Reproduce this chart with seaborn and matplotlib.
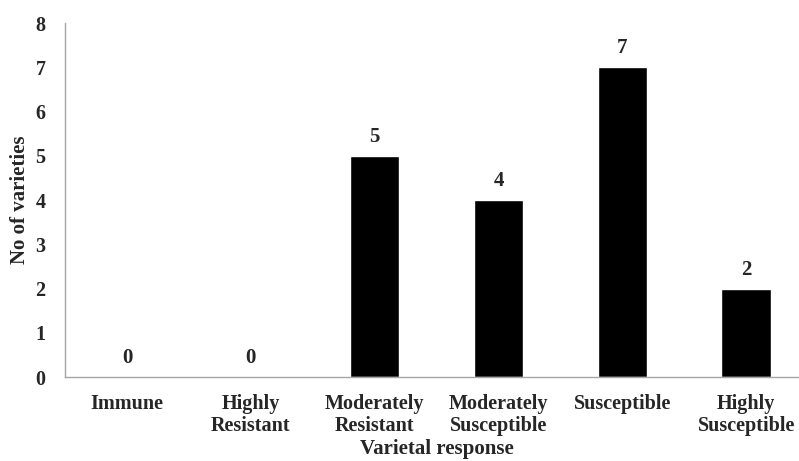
import matplotlib
matplotlib.use("Agg")
import matplotlib.pyplot as plt
import seaborn as sns
import pandas as pd

# data
categories = ["Immune", "Highly\nResistant", "Moderately\nResistant",
              "Moderately\nSusceptible", "Susceptible", "Highly\nSusceptible"]
counts = [0, 0, 5, 4, 7, 2]

df = pd.DataFrame({"response": categories, "count": counts})

sns.set_style("white")
plt.rcParams['font.family'] = ['Liberation Serif', 'DejaVu Serif']
plt.rcParams['font.weight'] = 'bold'

fig = plt.figure(figsize=(7.99, 4.61), dpi=100)
ax = fig.add_axes([0.0814, 0.1822, 0.930, 0.7679])

sns.barplot(data=df, x="response", y="count", color="black", width=0.4,
            saturation=1, ax=ax)

# value labels above bars
for i, v in enumerate(counts):
    ax.annotate(str(v), (i, v), xytext=(0, 10), textcoords="offset points",
                ha="center", va="baseline", fontsize=15, fontweight="bold")

ax.set_ylim(0, 8)
ax.set_xlim(-0.5, len(categories) - 0.5)
ax.set_yticks(range(0, 9))

# x ticks sit between categories
ax.set_xticks([i - 0.5 for i in range(len(categories) + 1)], minor=True)
ax.tick_params(axis="x", which="major", length=0, pad=12)
ax.tick_params(axis="x", which="minor", length=5, color="#a6a6a6", width=1)
ax.tick_params(axis="y", length=5, color="#a6a6a6", width=1, pad=9)
for lab in ax.get_xticklabels():
    lab.set_fontsize(14.5)
    lab.set_fontweight("bold")
    lab.set_linespacing(1.15)
for lab in ax.get_yticklabels():
    lab.set_fontsize(14.5)
    lab.set_fontweight("bold")

for s in ["top", "right"]:
    ax.spines[s].set_visible(False)
for s in ["left", "bottom"]:
    ax.spines[s].set_color("#a6a6a6")
    ax.spines[s].set_linewidth(1)

ax.set_xlabel("Varietal response", fontsize=15, fontweight="bold", labelpad=2)
ax.set_ylabel("No of varieties", fontsize=15, fontweight="bold", labelpad=4)

fig.savefig("out.png", dpi=100)
